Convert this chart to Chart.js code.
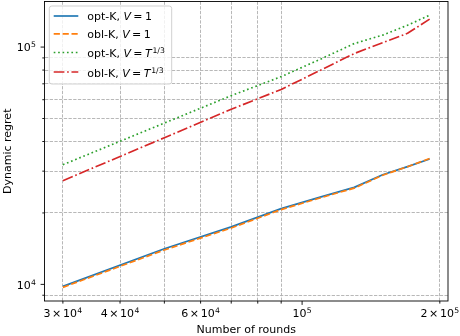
<!DOCTYPE html>
<html><head><meta charset="utf-8">
<script src="https://cdn.jsdelivr.net/npm/chart.js@4.4.1/dist/chart.umd.min.js"></script>
<style>html,body{margin:0;padding:0;background:#fff}#wrap{width:460px;height:336px;position:relative}</style>
</head><body><div id="wrap"><canvas id="c" width="460" height="336"></canvas></div>
<script>
// ---- data ----
const rounds = [30000, 50000, 70000, 90000, 110000, 130000, 150000, 170000, 190000];
const optKV1 = [9808, 14125, 17474, 20860, 23380, 25630, 28990, 31360, 33750];
const oblKV1 = [9714, 13964, 17280, 20660, 23200, 25440, 28850, 31320, 33910];
const optKVT = [31930, 47840, 62420, 75050, 89130, 103440, 112300, 123600, 136300];
const oblKVT = [27350, 41500, 54670, 66280, 80080, 93900, 104350, 114280, 131100];
const seriesNames = ['opt-K', 'obl-K', 'opt-K', 'obl-K'];
const seriesV = ['1', '1', 'T', 'T'];

// ticks
const xMinorTicks = [30000, 40000, 50000, 60000, 70000, 80000, 90000, 200000];
const xMajorTicks = [100000];
const xLabelValues = [30000, 40000, 60000, 100000, 200000];
const xLabelMant = ['3', '4', '6', '', '2'];
const xLabelExp = ['4', '4', '4', '5', '5'];
const yMinorTicks = [9000, 20000, 30000, 40000, 50000, 60000, 70000, 80000, 90000];
const yMajorTicks = [10000, 100000];
const yLabelValues = [10000, 100000];
const yLabelExp = ['4', '5'];

const FONT = '"DejaVu Sans", sans-serif';
const FS = 11, SUP = 7.7;
const colors = ['#1f77b4', '#ff7f0e', '#2ca02c', '#d62728'];
const LW = 1.67;
const dashes = [[], [6.2, 2.7], [1.67, 2.75], [10.7, 2.7, 1.67, 2.7]];
const seriesData = [optKV1, oblKV1, optKVT, oblKVT];

const datasets = seriesData.map((arr, i) => ({
  label: seriesNames[i] + ', V = ' + seriesV[i],
  data: rounds.map((x, j) => ({x: x, y: arr[j]})),
  borderColor: colors[i],
  backgroundColor: colors[i],
  borderWidth: LW,
  borderDash: dashes[i],
  pointRadius: 0,
  tension: 0,
  fill: false,
  order: 3 - i
}));

function font(size, italic) { return (italic ? 'italic ' : '') + size + 'px ' + FONT; }

// draw sequence of pieces [{t, size, italic, raise, gapBefore}]
function drawPieces(ctx, pieces, x, baseline, align) {
  let w = 0;
  pieces.forEach(p => { ctx.font = font(p.size, p.italic); p.w = ctx.measureText(p.t).width; w += p.w + (p.gap || 0); });
  let cx = align === 'center' ? x - w / 2 : align === 'right' ? x - w : x;
  ctx.textAlign = 'left'; ctx.textBaseline = 'alphabetic';
  pieces.forEach(p => {
    cx += (p.gap || 0);
    ctx.font = font(p.size, p.italic);
    ctx.fillText(p.t, cx, baseline - (p.raise || 0));
    cx += p.w;
  });
}

const overlay = {
  id: 'overlay',
  afterDatasetsDraw(chart) {
    const ctx = chart.ctx, a = chart.chartArea;
    const xs = chart.scales.x, ys = chart.scales.y;
    ctx.save();
    // frame
    ctx.strokeStyle = '#000'; ctx.lineWidth = 0.9;
    ctx.strokeRect(a.left, a.top, a.right - a.left, a.bottom - a.top);
    // ticks
    ctx.beginPath();
    xMinorTicks.forEach(v => { const p = xs.getPixelForValue(v); ctx.moveTo(p, a.bottom); ctx.lineTo(p, a.bottom + 2.6); });
    xMajorTicks.forEach(v => { const p = xs.getPixelForValue(v); ctx.moveTo(p, a.bottom); ctx.lineTo(p, a.bottom + 3.9); });
    yMinorTicks.forEach(v => { const p = ys.getPixelForValue(v); ctx.moveTo(a.left, p); ctx.lineTo(a.left - 2.2, p); });
    yMajorTicks.forEach(v => { const p = ys.getPixelForValue(v); ctx.moveTo(a.left, p); ctx.lineTo(a.left - 3.9, p); });
    ctx.stroke();
    ctx.fillStyle = '#000';
    // x tick labels
    xLabelValues.forEach((v, i) => {
      const p = xs.getPixelForValue(v);
      const pcs = [];
      if (xLabelMant[i]) { pcs.push({t: xLabelMant[i], size: FS}); pcs.push({t: '\u00d7', size: FS, gap: 1.6}); pcs.push({t: '10', size: FS, gap: 1.6}); }
      else pcs.push({t: '10', size: FS});
      pcs.push({t: xLabelExp[i], size: SUP, raise: 3.8, gap: 0.4});
      drawPieces(ctx, pcs, p, a.bottom + 16, 'center');
    });
    // y tick labels
    yLabelValues.forEach((v, i) => {
      const p = ys.getPixelForValue(v);
      drawPieces(ctx, [{t: '10', size: FS}, {t: yLabelExp[i], size: SUP, raise: 3.8, gap: 0.4}], a.left - 8.5, p + 4.2, 'right');
    });
    // axis titles
    ctx.font = font(FS); ctx.textAlign = 'center'; ctx.textBaseline = 'alphabetic';
    ctx.fillText('Number of rounds', (a.left + a.right) / 2, 333);
    ctx.save();
    ctx.translate(11, (a.top + a.bottom) / 2);
    ctx.rotate(-Math.PI / 2);
    ctx.fillText('Dynamic regret', 0, 0);
    ctx.restore();
    // legend
    const bx = 49.3, by = 6, bw = 122.4, bh = 78, r = 2.5;
    ctx.beginPath();
    ctx.moveTo(bx + r, by); ctx.lineTo(bx + bw - r, by); ctx.arcTo(bx + bw, by, bx + bw, by + r, r);
    ctx.lineTo(bx + bw, by + bh - r); ctx.arcTo(bx + bw, by + bh, bx + bw - r, by + bh, r);
    ctx.lineTo(bx + r, by + bh); ctx.arcTo(bx, by + bh, bx, by + bh - r, r);
    ctx.lineTo(bx, by + r); ctx.arcTo(bx, by, bx + r, by, r); ctx.closePath();
    ctx.fillStyle = 'rgba(255,255,255,0.8)'; ctx.fill();
    ctx.strokeStyle = '#cccccc'; ctx.lineWidth = 0.9; ctx.stroke();
    const handleY = [16, 33.8, 52.5, 72];
    const baseY = [20.2, 38, 57, 76.5];
    for (let i = 0; i < 4; i++) {
      ctx.save();
      ctx.strokeStyle = colors[i]; ctx.lineWidth = LW; ctx.setLineDash(dashes[i]); ctx.lineCap = 'butt';
      ctx.beginPath(); ctx.moveTo(53.7, handleY[i]); ctx.lineTo(78.3, handleY[i]); ctx.stroke();
      ctx.restore();
      ctx.fillStyle = '#000';
      const pcs = [{t: seriesNames[i] + ', ', size: FS}, {t: 'V', size: FS, italic: true}, {t: '=', size: FS, gap: 2.4}];
      if (seriesV[i] === '1') pcs.push({t: '1', size: FS, gap: 2.4});
      else { pcs.push({t: 'T', size: FS, italic: true, gap: 2.4}); pcs.push({t: '1/3', size: SUP, raise: 4, gap: 0.8}); }
      drawPieces(ctx, pcs, 87.2, baseY[i], 'left');
    }
    ctx.restore();
  }
};

const gridColor = (hide) => (c) => (c.tick && hide.includes(c.tick.value)) ? 'rgba(0,0,0,0)' : '#b0b0b0';

new Chart(document.getElementById('c'), {
  type: 'line',
  data: {datasets: datasets},
  options: {
    responsive: false,
    animation: false,
    devicePixelRatio: 1,
    layout: {padding: {left: 44.5, top: 1.5, right: 12, bottom: 35}},
    plugins: {legend: {display: false}, tooltip: {enabled: false}},
    elements: {line: {borderCapStyle: 'butt', borderJoinStyle: 'round'}},
    scales: {
      x: {
        type: 'logarithmic', min: 27350, max: 208400,
        afterBuildTicks: (s) => { s.ticks = xMinorTicks.concat(xMajorTicks).map(v => ({value: v})); },
        ticks: {display: false},
        grid: {color: gridColor(xMajorTicks), lineWidth: 0.9, drawTicks: false},
        border: {display: false, dash: [3.3, 1.4]}
      },
      y: {
        type: 'logarithmic', min: 8511, max: 155600,
        afterBuildTicks: (s) => { s.ticks = yMinorTicks.concat(yMajorTicks).map(v => ({value: v})); },
        ticks: {display: false},
        grid: {color: gridColor(yMajorTicks), lineWidth: 0.9, drawTicks: false},
        border: {display: false, dash: [3.3, 1.4]}
      }
    }
  },
  plugins: [overlay]
});
</script>
</body></html>
